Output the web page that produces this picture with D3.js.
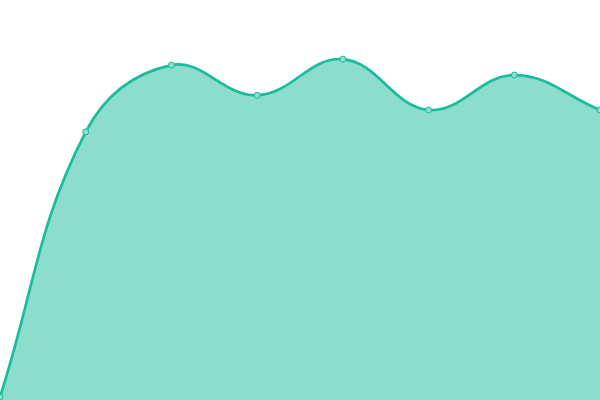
<!DOCTYPE html>
<html><head><meta charset="utf-8">
<script src="https://cdn.jsdelivr.net/npm/d3@7"></script>
<style>html,body{margin:0;padding:0;background:#fff;}svg{display:block;}</style>
</head><body>
<svg id="c" width="600" height="400"></svg>
<script>
const categories = ["1","2","3","4","5","6","7","8"];
const values = [0, 66.8, 83.6, 76, 85.1, 72.3, 81.1, 72.3];

const W = 600, H = 400;
const svg = d3.select("#c");
const x = d3.scalePoint().domain(categories).range([0, W]);
const y = d3.scaleLinear().domain([0, 100]).range([397, 0]);
const data = categories.map((c, i) => ({c, v: values[i]}));

// Distance-weighted cardinal spline (tension 0.4)
function SplineCurve(context) { this._context = context; this._t = 0.4; }
SplineCurve.prototype = {
  areaStart() { this._line = 0; },
  areaEnd() { this._line = NaN; },
  lineStart() { this._pts = []; },
  point(px, py) { this._pts.push([+px, +py]); },
  lineEnd() {
    const p = this._pts, n = p.length, c = this._context, t = this._t;
    if (n) {
      if (this._line) c.lineTo(p[0][0], p[0][1]); else c.moveTo(p[0][0], p[0][1]);
      const cps = p.map((cur, i) => {
        const prev = p[Math.max(0, i - 1)], next = p[Math.min(n - 1, i + 1)];
        const d01 = Math.hypot(cur[0] - prev[0], cur[1] - prev[1]);
        const d12 = Math.hypot(next[0] - cur[0], next[1] - cur[1]);
        let s01 = d01 / (d01 + d12), s12 = d12 / (d01 + d12);
        if (!isFinite(s01)) s01 = 0; if (!isFinite(s12)) s12 = 0;
        const fa = t * s01, fb = t * s12;
        const dx = next[0] - prev[0], dy = next[1] - prev[1];
        return {
          px: cur[0] - fa * dx, py: cur[1] - fa * dy,
          nx: cur[0] + fb * dx, ny: cur[1] + fb * dy
        };
      });
      for (let i = 1; i < n; i++) {
        c.bezierCurveTo(cps[i-1].nx, cps[i-1].ny, cps[i].px, cps[i].py, p[i][0], p[i][1]);
      }
    }
    if (this._line || (this._line !== 0 && n === 1)) c.closePath();
    this._line = 1 - this._line;
  }
};
const curve = ctx => new SplineCurve(ctx);

const area = d3.area().curve(curve)
  .x(d => x(d.c)).y0(H).y1(d => y(d.v));
const line = d3.line().curve(curve)
  .x(d => x(d.c)).y(d => y(d.v));

svg.append("path").datum(data).attr("d", area)
  .attr("fill", "#1abc9c").attr("fill-opacity", 0.5);
svg.append("path").datum(data).attr("d", line)
  .attr("fill", "none").attr("stroke", "#1abc9c").attr("stroke-width", 2.7);
svg.selectAll("circle").data(data).join("circle")
  .attr("cx", d => x(d.c)).attr("cy", d => y(d.v)).attr("r", 3)
  .attr("fill", "#8ce0cf").attr("stroke", "#1abc9c").attr("stroke-width", 1);
</script>
</body></html>
